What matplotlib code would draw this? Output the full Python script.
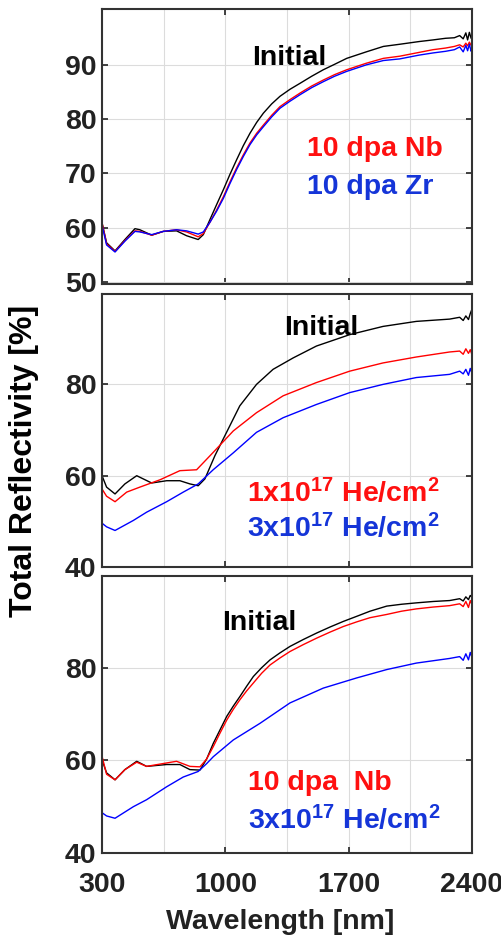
import matplotlib
matplotlib.use("Agg")
import matplotlib.pyplot as plt

plt.rcParams["font.family"] = ["Liberation Sans", "DejaVu Sans"]
plt.rcParams["font.weight"] = "bold"
plt.rcParams["mathtext.fontset"] = "custom"
plt.rcParams["mathtext.rm"] = "Liberation Sans:bold"
plt.rcParams["mathtext.it"] = "Liberation Sans:bold"
plt.rcParams["mathtext.bf"] = "Liberation Sans:bold"

# ---- top panel: 10 dpa Nb / 10 dpa Zr ----
wl_top = [300, 326, 374, 430, 487, 515, 582, 648, 723, 780,
          846, 875, 913, 950, 989, 1026, 1064, 1102, 1140, 1178,
          1216, 1263, 1310, 1367, 1424, 1490, 1556, 1620, 1689, 1800,
          1897, 1990, 2100, 2179, 2250, 2300, 2330, 2350, 2365, 2375,
          2385, 2395, 2400]
top_initial = [60.9, 57.2, 55.7, 57.8, 59.8, 59.6, 58.6, 59.3, 59.4, 58.5,
               57.8, 58.7, 61.5, 64.2, 67.0, 69.8, 72.5, 75.1, 77.4, 79.4,
               81.1, 82.8, 84.2, 85.5, 86.6, 87.9, 89.1, 90.1, 91.2, 92.4,
               93.4, 93.8, 94.3, 94.6, 94.9, 95.0, 95.4, 94.8, 95.9, 94.6,
               96.0, 94.9, 95.6]
top_nb = [60.9, 57.0, 55.6, 57.6, 59.4, 59.3, 58.6, 59.3, 59.6, 59.2,
          58.3, 58.9, 61.0, 63.2, 65.7, 68.4, 71.0, 73.4, 75.6, 77.4,
          78.9, 80.7, 82.3, 83.6, 84.8, 86.1, 87.2, 88.2, 89.1, 90.3,
          91.2, 91.6, 92.3, 92.8, 93.1, 93.4, 93.7, 93.3, 94.0, 93.5,
          94.2, 93.6, 93.9]
top_zr = [60.5, 56.8, 55.5, 57.5, 59.3, 59.2, 58.7, 59.3, 59.6, 59.4,
          58.8, 59.2, 61.0, 63.0, 65.4, 68.1, 70.7, 73.1, 75.3, 77.1,
          78.6, 80.4, 82.0, 83.3, 84.5, 85.8, 86.9, 87.9, 88.8, 90.0,
          90.8, 91.1, 91.8, 92.2, 92.5, 92.8, 93.3, 92.4, 93.6, 92.6,
          93.8, 92.5, 92.8]

# ---- middle panel: He irradiation ----
wl_mid_init = [300, 326, 374, 430, 497, 534, 582, 667, 742, 799, 846, 884, 941, 1007, 1082, 1177,
               1271, 1385, 1517, 1706, 1895, 2084, 2273, 2330, 2350, 2365, 2380, 2390, 2400]
mid_initial = [60.0, 57.5, 56.0, 58.2, 60.0, 59.3, 58.4, 58.9, 58.9, 58.2, 57.8, 59.3, 64.4, 69.5, 75.3, 80.0,
               83.3, 85.8, 88.4, 90.9, 92.7, 93.8, 94.3, 94.7, 94.0, 95.0, 94.2, 95.5, 96.5]
wl_mid_he1 = [300, 326, 374, 440, 515, 629, 742, 837, 931, 1045, 1177, 1328, 1517, 1706, 1895, 2084,
              2273, 2330, 2350, 2365, 2380, 2390, 2400]
mid_he1 = [57.1, 55.5, 54.3, 56.4, 57.5, 59.1, 61.1, 61.3, 65.1, 69.8, 73.8, 77.5, 80.4, 82.9, 84.7, 86.0,
           87.1, 87.3, 86.6, 87.8, 86.8, 87.6, 86.5]
wl_mid_he3 = [300, 326, 374, 478, 553, 667, 761, 846, 931, 1045, 1177, 1328, 1517, 1706, 1895, 2084,
              2273, 2330, 2350, 2365, 2380, 2390, 2400]
mid_he3 = [49.6, 48.8, 48.0, 50.2, 52.0, 54.3, 56.4, 58.2, 61.3, 65.0, 69.5, 72.7, 75.6, 78.2, 80.0, 81.5,
           82.2, 82.9, 82.3, 83.3, 82.0, 83.5, 82.4]

# ---- bottom panel: 10 dpa Nb vs 3x10^17 He ----
wl_bot_init = [300, 326, 374, 430, 497, 553, 667, 742, 799, 856,
               894, 932, 970, 1008, 1045, 1083, 1121, 1159, 1206, 1254,
               1310, 1367, 1443, 1519, 1595, 1670, 1746, 1821, 1916, 2000,
               2084, 2180, 2273, 2330, 2350, 2365, 2380, 2390, 2400]
bot_initial = [60.1, 57.3, 55.8, 58.0, 59.8, 58.7, 59.1, 59.1, 58.0, 57.9,
               60.3, 63.7, 66.6, 69.5, 71.7, 73.8, 76.0, 78.1, 80.0, 81.7,
               83.2, 84.6, 86.1, 87.5, 88.8, 90.0, 91.1, 92.2, 93.3, 93.7,
               94.0, 94.3, 94.5, 94.9, 94.4, 95.3, 94.7, 95.6, 95.2]
wl_bot_nb = [300, 326, 374, 430, 497, 553, 723, 799, 856, 894,
             932, 970, 1008, 1045, 1083, 1121, 1159, 1206, 1254, 1310,
             1367, 1443, 1519, 1595, 1670, 1746, 1821, 1916, 2000, 2084,
             2180, 2273, 2330, 2350, 2365, 2380, 2390, 2400]
bot_nb = [60.9, 57.0, 55.8, 58.0, 59.6, 58.7, 59.8, 58.7, 58.6, 60.3,
          63.0, 65.9, 68.7, 71.0, 73.1, 75.0, 76.7, 78.8, 80.6, 82.1,
          83.5, 85.0, 86.4, 87.7, 88.9, 89.9, 90.8, 91.5, 92.2, 92.7,
          93.1, 93.4, 93.8, 93.2, 94.3, 93.0, 94.5, 93.6]
wl_bot_he3 = [300, 326, 374, 478, 553, 667, 761, 846, 894, 932, 1045, 1197,
              1367, 1556, 1746, 1916, 2084, 2273, 2330, 2350, 2365, 2380, 2390, 2400]
bot_he3 = [48.7, 48.0, 47.5, 50.0, 51.5, 54.3, 56.4, 57.6, 59.3, 60.8, 64.4, 68.0,
           72.4, 75.6, 77.8, 79.6, 81.0, 82.0, 82.4, 81.6, 83.0, 81.7, 83.3, 82.2]

x_ticks = [300, 1000, 1700, 2400]
x_minor = [650, 1350, 2050]

RED = "#ff0000"
BLUE = "#0000ff"
RED_TXT = "#ff1010"
BLUE_TXT = "#1535d8"
FS = 20.5

fig = plt.figure(figsize=(5.02, 9.39), dpi=100)
W, H = 502, 939


def make_ax(top_px, bot_px):
    return fig.add_axes([102 / W, 1 - bot_px / H, 370 / W, (bot_px - top_px) / H])


def style(ax, ylim, yticks, show_x):
    ax.set_xlim(300, 2400)
    ax.set_ylim(*ylim)
    ax.set_xticks(x_ticks)
    ax.set_xticks(x_minor, minor=True)
    ax.set_yticks(yticks)
    ax.grid(True, which="both", color="#dcdcdc", lw=0.8)
    ax.set_axisbelow(True)
    ax.tick_params(which="major", direction="in", length=4, width=1.2, top=True, right=True,
                   labelsize=FS, colors="#222222", pad=4)
    ax.tick_params(axis="x", pad=14)
    ax.tick_params(which="minor", length=0)
    if not show_x:
        ax.tick_params(axis="x", labelbottom=False)
    for sp in ax.spines.values():
        sp.set_linewidth(1.5)
        sp.set_color("#333333")


ax1 = make_ax(9, 284)
ax1.plot(wl_top, top_initial, color="black", lw=1.0)
ax1.plot(wl_top, top_nb, color=RED, lw=1.0)
ax1.plot(wl_top, top_zr, color=BLUE, lw=1.0)
style(ax1, (49.6, 100.3), [50, 60, 70, 80, 90], False)
ax1.text(1151, 91.3, "Initial", fontsize=FS, va="center", color="black")
ax1.text(1463, 74.5, "10 dpa Nb", fontsize=FS, va="center", color=RED_TXT)
ax1.text(1463, 67.5, "10 dpa Zr", fontsize=FS, va="center", color=BLUE_TXT)

ax2 = make_ax(294, 567)
ax2.plot(wl_mid_init, mid_initial, color="black", lw=1.0)
ax2.plot(wl_mid_he1, mid_he1, color=RED, lw=1.0)
ax2.plot(wl_mid_he3, mid_he3, color=BLUE, lw=1.0)
style(ax2, (40.3, 99.8), [40, 60, 80], False)
ax2.text(1333, 92.4, "Initial", fontsize=FS, va="center", color="black")
ax2.text(1123, 56.1, r"1x10$^{17}$ He/cm$^{2}$", fontsize=FS, va="center", color=RED_TXT)
ax2.text(1123, 48.5, r"3x10$^{17}$ He/cm$^{2}$", fontsize=FS, va="center", color=BLUE_TXT)

ax3 = make_ax(576, 853)
ax3.plot(wl_bot_init, bot_initial, color="black", lw=1.0)
ax3.plot(wl_bot_nb, bot_nb, color=RED, lw=1.0)
ax3.plot(wl_bot_he3, bot_he3, color=BLUE, lw=1.0)
style(ax3, (40.2, 99.8), [40, 60, 80], True)
ax3.text(981, 89.7, "Initial", fontsize=FS, va="center", color="black")
ax3.text(1129, 55.1, "10 dpa  Nb", fontsize=FS, va="center", color=RED_TXT)
ax3.text(1129, 47.1, r"3x10$^{17}$ He/cm$^{2}$", fontsize=FS, va="center", color=BLUE_TXT)

fig.text(280 / W, 1 - 922 / H, "Wavelength [nm]", fontsize=FS, ha="center", va="center", color="#222222")
fig.text(24 / W, 1 - 461 / H, "Total Reflectivity [%]", fontsize=23, rotation=90,
         ha="center", va="center", color="black")

fig.savefig("out.png", dpi=100)
